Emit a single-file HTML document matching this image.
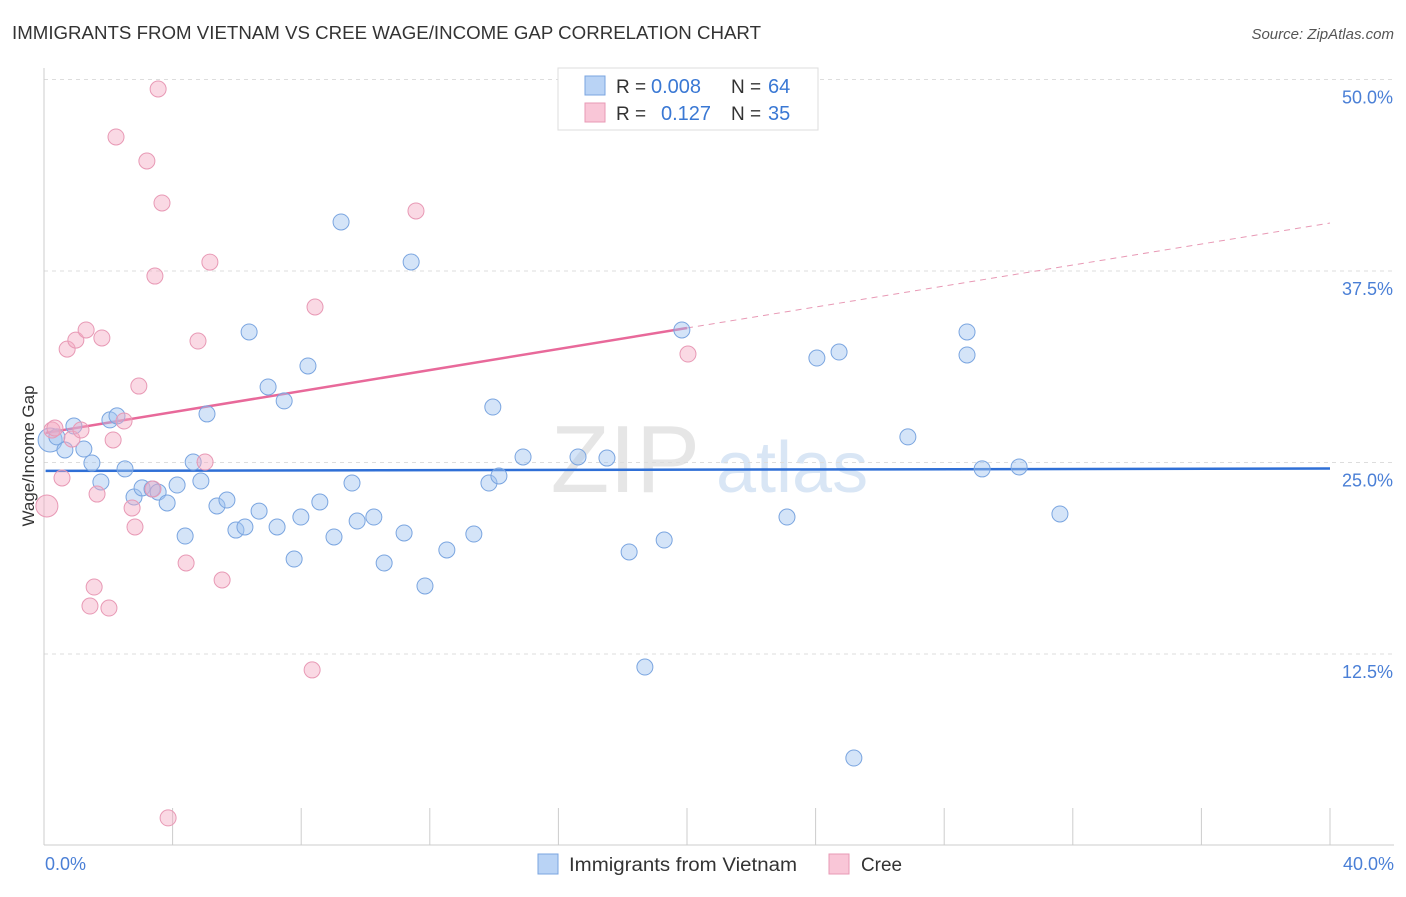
<!DOCTYPE html>
<html><head><meta charset="utf-8"><style>
body{margin:0;background:#fff;font-family:"Liberation Sans",sans-serif;}
svg text{font-family:"Liberation Sans",sans-serif;}
</style></head><body>
<svg id="chart" width="1406" height="892">
<text x="12" y="39" font-size="18" fill="#333" textLength="749" lengthAdjust="spacingAndGlyphs">IMMIGRANTS FROM VIETNAM VS CREE WAGE/INCOME GAP CORRELATION CHART</text>
<text x="1394" y="39" font-size="15" fill="#555" text-anchor="end" font-style="italic">Source: ZipAtlas.com</text>
<text x="700" y="492" font-size="96" fill="#e6e6e6" text-anchor="end" font-family="Liberation Serif">ZIP</text>
<text x="716" y="492" font-size="72" fill="#d9e6f5">atlas</text>
<text x="34" y="456" font-size="17" fill="#333" text-anchor="middle" transform="rotate(-90 34 456)">Wage/Income Gap</text>
<g id="grid"></g><g id="axes"></g><g id="lines"></g><g id="pts"></g>
<g>
<rect x="558" y="68" width="260" height="62" fill="#fff" stroke="#ddd"/>
<rect x="585" y="76" width="20" height="19" fill="#b9d3f5" stroke="#7aa5e0"/>
<text x="616" y="93" font-size="19" fill="#333">R =</text>
<text x="651" y="93" font-size="20" fill="#3a78d4">0.008</text>
<text x="731" y="93" font-size="19" fill="#333">N =</text>
<text x="768" y="93" font-size="20" fill="#3a78d4">64</text>
<rect x="585" y="103" width="20" height="19" fill="#f9c6d7" stroke="#e899b5"/>
<text x="616" y="120" font-size="19" fill="#333">R =</text>
<text x="661" y="120" font-size="20" fill="#3a78d4">0.127</text>
<text x="731" y="120" font-size="19" fill="#333">N =</text>
<text x="768" y="120" font-size="20" fill="#3a78d4">35</text>
</g>
<g>
<rect x="538" y="854" width="20" height="20" fill="#b9d3f5" stroke="#7aa5e0"/>
<text x="569" y="871" font-size="19" fill="#333" textLength="228" lengthAdjust="spacingAndGlyphs">Immigrants from Vietnam</text>
<rect x="829" y="854" width="20" height="20" fill="#f9c6d7" stroke="#e899b5"/>
<text x="861" y="871" font-size="19" fill="#333" textLength="41" lengthAdjust="spacingAndGlyphs">Cree</text>
</g>
<text x="45" y="870" font-size="18" fill="#4a7fd6">0.0%</text>
<text x="1394" y="870" font-size="18" fill="#4a7fd6" text-anchor="end">40.0%</text>
</svg>
<script>
const yTicks=[12.5,25,37.5,50];
const yTickLabels=["12.5%","25.0%","37.5%","50.0%"];
const blueX=[0.19,0.40,0.65,0.93,1.24,1.49,1.77,2.05,2.27,2.52,2.80,3.05,3.36,3.55,3.83,4.14,4.39,4.64,4.88,5.07,5.38,5.69,5.97,6.25,6.38,6.69,6.97,7.25,7.47,7.78,7.99,8.21,8.58,9.02,9.24,9.58,9.74,10.26,10.58,11.20,11.42,11.85,12.53,13.37,13.84,13.96,14.15,14.90,16.61,17.51,18.20,18.69,19.29,19.84,23.11,24.04,24.73,25.19,26.87,28.71,28.71,29.18,30.33,31.60];
const blueY=[26.47,26.67,25.82,27.38,25.88,24.97,23.73,27.78,28.04,24.58,22.75,23.34,23.27,23.07,22.36,23.53,20.20,25.03,23.79,28.17,22.16,22.55,20.59,20.79,33.52,21.83,29.93,20.79,29.02,18.70,21.44,31.30,22.42,20.14,40.70,23.66,21.18,21.44,18.44,20.40,38.09,16.94,19.29,20.33,23.66,28.62,24.12,25.36,25.36,25.29,19.16,11.65,19.94,33.65,21.44,31.82,32.21,5.71,26.67,33.52,32.02,24.58,24.71,21.64];
const pinkX=[0.09,0.25,0.34,0.56,0.72,0.87,0.99,1.15,1.31,1.43,1.56,1.65,1.80,2.02,2.15,2.24,2.49,2.74,2.83,2.95,3.20,3.39,3.45,3.55,3.67,3.86,4.42,4.79,5.01,5.16,5.54,8.34,8.43,11.57,20.03];
const pinkY=[22.16,27.12,27.25,23.99,32.40,26.53,32.99,27.12,33.65,15.63,16.87,22.94,33.13,15.50,26.47,46.25,27.71,22.03,20.79,29.99,44.68,23.27,37.17,49.38,41.94,1.80,18.44,32.93,25.03,38.08,17.33,11.46,35.15,41.42,32.08];
const blueFit=[24.45,0.004];
const pinkFit=[26.93,0.3425];
const NS="http://www.w3.org/2000/svg";
const X=v=>44+v*32.15, Y=v=>845.5-v*15.32;
function mk(t,a,p){const e=document.createElementNS(NS,t);for(const k in a)e.setAttribute(k,a[k]);document.getElementById(p).appendChild(e);return e;}
yTicks.forEach((t,i)=>{
 const g=mk('line',{x1:44,x2:1394,y1:Y(t),y2:Y(t),stroke:'#ddd','stroke-dasharray':'4,4'},'grid');
 
 
 const l=mk('text',{x:1393,y:Y(t)+24,'font-size':18,fill:'#4a7fd6','text-anchor':'end'},'grid');
 l.textContent=yTickLabels[i];
 
 
});
let ax=mk('line',{x1:44,x2:1394,y1:845,y2:845,stroke:'#ccc'},'axes');


let ay=mk('line',{x1:44,x2:44,y1:68,y2:845,stroke:'#ccc'},'axes');


for(let i=0;i<=10;i++){
 const t=mk('line',{x1:X(i*4),x2:X(i*4),y1:808,y2:845,stroke:'#ccc'},'axes');
 
 
}
let bl=mk('line',{x1:X(0.05),x2:X(40),y1:Y(blueFit[0]),y2:Y(blueFit[0]+blueFit[1]*40),stroke:'#2f6fd6','stroke-width':2.5},'lines');


let pl=mk('line',{x1:X(0.05),x2:X(20),y1:Y(pinkFit[0]),y2:Y(pinkFit[0]+pinkFit[1]*20),stroke:'#e8699a','stroke-width':2.5},'lines');


let pd=mk('line',{x1:X(20),x2:X(40),y1:Y(pinkFit[0]+pinkFit[1]*20),y2:Y(pinkFit[0]+pinkFit[1]*40),stroke:'#e899b5','stroke-width':1,'stroke-dasharray':'6,5'},'lines');


blueX.forEach((v,i)=>{
 const c=mk('circle',{cx:X(v),cy:Y(blueY[i]),r:i==0?12:8,fill:'rgba(160,195,240,0.45)',stroke:'#7aa5e0','stroke-width':1},'pts');
 
 
});
pinkX.forEach((v,i)=>{
 const c=mk('circle',{cx:X(v),cy:Y(pinkY[i]),r:i==0?11:8,fill:'rgba(245,170,195,0.45)',stroke:'#e899b5','stroke-width':1},'pts');
 
 
});
</script>
</body></html>
